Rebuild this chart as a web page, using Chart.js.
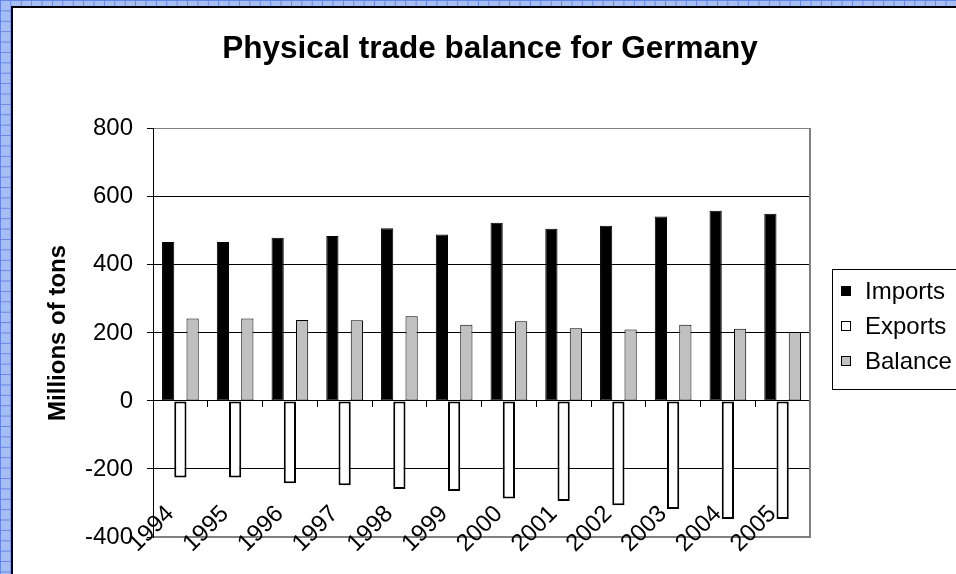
<!DOCTYPE html>
<html lang="en">
<head>
    <meta charset="UTF-8">
    <title>Physical trade balance for Germany</title>
    <style>
        body {
            margin: 0;
            width: 956px;
            height: 574px;
            overflow: hidden;
            background:
                linear-gradient(90deg, #6286e4 1px, transparent 1px) 0 0 / 10.4px 10.4px,
                linear-gradient(#6286e4 1px, transparent 1px) 0 0 / 10.4px 10.4px,
                #a7bef2;
        }

        .frame {
            position: absolute;
            left: 11px;
            top: 6px;
            width: 960px;
            height: 570px;
            background: #fff;
            border-left: 2px solid #000;
            border-top: 2px solid #000;
            overflow: hidden;
        }
    </style>
    <script src="https://cdn.jsdelivr.net/npm/chart.js"></script>
</head>
<body>

<div class="frame">
    <canvas id="tradeChart" width="954" height="566"></canvas>
</div>

<script>
    const years = ['1994', '1995', '1996', '1997', '1998', '1999', '2000', '2001', '2002', '2003', '2004', '2005'];
    const imports = [467, 467, 480, 485, 508, 489, 524, 506, 515, 542, 559, 550];
    const exports = [-225, -225, -242, -248, -259, -265, -287, -294, -307, -318, -347, -347];
    const balance = [242, 242, 238, 237, 249, 224, 234, 214, 210, 224, 212, 203];
    const yTicks = [-400, -200, 0, 200, 400, 600, 800];

    const FONT = 'Arial, "Liberation Sans", sans-serif';

    // legend with a box round it, like the spreadsheet one
    const boxedLegend = {
        id: 'boxedLegend',
        afterDraw(chart) {
            const ctx = chart.ctx;
            ctx.save();
            ctx.strokeStyle = '#000';
            ctx.lineWidth = 1;
            ctx.strokeRect(819.5, 261.5, 200, 120);
            ctx.font = '24px ' + FONT;
            ctx.textBaseline = 'middle';
            chart.data.datasets.forEach((ds, i) => {
                const y = 283 + i * 35;
                ctx.fillStyle = ds.backgroundColor;
                ctx.fillRect(828, y - 5, 10, 10);
                ctx.strokeStyle = '#000';
                ctx.strokeRect(828.5, y - 4.5, 9, 9);
                ctx.fillStyle = '#000';
                ctx.fillText(ds.label, 852, y + 1);
            });
            ctx.restore();
        }
    };

    const ctx = document.getElementById('tradeChart').getContext('2d');
    const tradeChart = new Chart(ctx, {
        type: 'bar',
        data: {
            labels: years,
            datasets: [
                {
                    label: 'Imports',
                    data: imports,
                    backgroundColor: '#000000',
                    borderColor: '#000000',
                    borderWidth: 1,
                    borderSkipped: false
                },
                {
                    label: 'Exports',
                    data: exports,
                    backgroundColor: '#ffffff',
                    borderColor: '#000000',
                    borderWidth: 2,
                    borderSkipped: false
                },
                {
                    label: 'Balance',
                    data: balance,
                    backgroundColor: '#c0c0c0',
                    borderColor: '#000000',
                    borderWidth: 1,
                    borderSkipped: false
                }
            ]
        },
        options: {
            responsive: false,
            animation: false,
            devicePixelRatio: 1,
            layout: { padding: { bottom: 37 } },
            datasets: {
                bar: { categoryPercentage: 0.67, barPercentage: 1 }
            },
            plugins: {
                legend: { display: false },
                tooltip: { enabled: false },
                title: {
                    display: true,
                    text: 'Physical trade balance for Germany',
                    color: '#000',
                    font: { family: FONT, size: 31.5, weight: 'bold' },
                    padding: { top: 22, bottom: 61 }
                }
            },
            scales: {
                // year labels sit on the -400 line and lean up into the plot
                x: {
                    type: 'category',
                    position: { y: -400 },
                    offset: true,
                    grid: { display: false },
                    border: { display: true, color: '#808080', width: 2 },
                    ticks: {
                        color: '#000',
                        font: { family: FONT, size: 24 },
                        minRotation: 45,
                        maxRotation: 45,
                        autoSkip: false,
                        labelOffset: -10,
                        padding: -45
                    }
                },
                x0: {
                    type: 'category',
                    position: { y: 0 },
                    offset: true,
                    grid: {
                        offset: true,
                        drawOnChartArea: false,
                        drawTicks: true,
                        tickLength: 6,
                        color: '#000'
                    },
                    border: { display: true, color: '#000', width: 1 },
                    ticks: { display: false }
                },
                y: {
                    position: 'left',
                    min: -400,
                    max: 800,
                    afterBuildTicks: (scale) => { scale.ticks = yTicks.map(v => ({ value: v })); },
                    ticks: {
                        color: '#000',
                        font: { family: FONT, size: 24 },
                        padding: 14
                    },
                    grid: {
                        color: (c) => (c.tick && (c.tick.value === 800 || c.tick.value === -400)) ? '#808080' : '#000',
                        tickColor: '#000',
                        tickLength: 6,
                        lineWidth: 1
                    },
                    border: { color: '#000', width: 1 },
                    title: {
                        display: true,
                        text: 'Millions of tons',
                        color: '#000',
                        font: { family: FONT, size: 24, weight: 'bold' },
                        padding: { top: 31, bottom: 0 }
                    },
                    afterFit: (scale) => { scale.width = 140; }
                },
                yRight: {
                    position: 'right',
                    ticks: { display: false },
                    grid: { drawOnChartArea: false, drawTicks: false },
                    border: { display: true, color: '#808080', width: 2 },
                    afterFit: (scale) => { scale.width = 157; }
                }
            }
        },
        plugins: [boxedLegend]
    });
</script>

</body>
</html>
